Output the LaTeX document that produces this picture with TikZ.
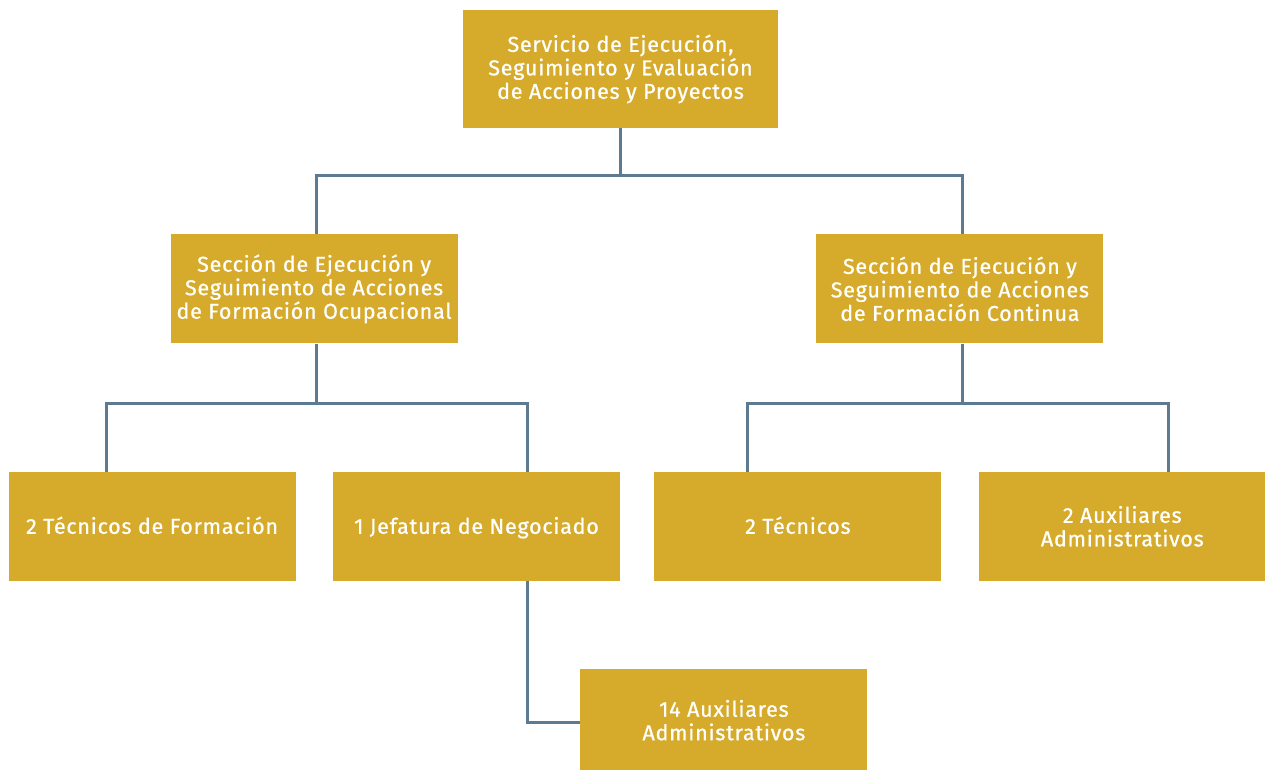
\documentclass[tikz,border=0pt]{standalone}
\usepackage{fontspec}
\setmainfont[LetterSpace=3.5, FakeBold=0.8]{Fira Sans}
\usetikzlibrary{positioning}
\definecolor{unitgold}{HTML}{D6AA2A}
\definecolor{linkslate}{HTML}{5E7A90}
\tikzstyle{unit}=[
	rectangle,
	fill=unitgold,
	text=white,
	align=center,
	inner sep=0pt,
	minimum width=287pt,
	minimum height=109pt,
	font=\fontsize{21.5}{23.5}\selectfont
]
\tikzstyle{oneline}=[
	text height=15pt,
	text depth=0pt
]
\tikzstyle{link}=[
	draw=linkslate,
	line width=3pt
]

\begin{document}
\begin{tikzpicture}[x=1pt,y=1pt]
\useasboundingbox (0,0) rectangle (1265,-770);
\node [unit, minimum width=315pt, minimum height=118pt] (Servicio) at (620.5,-69) {Servicio de Ejecución,\\Seguimiento y Evaluación\\de Acciones y Proyectos};
\node [unit] (SeccionOcupacional)[below left=106pt and 5pt of Servicio] {Sección de Ejecución y\\Seguimiento de Acciones\\de Formación Ocupacional};
\node [unit] (SeccionContinua)[below right=106pt and 38pt of Servicio] {Sección de Ejecución y\\Seguimiento de Acciones\\de Formación Continua};
\node [unit, oneline] (TecnicosFormacion)[below=128pt of SeccionOcupacional, xshift=-162pt] {2 Técnicos de Formación};
\node [unit, oneline] (Jefatura)[right=37pt of TecnicosFormacion] {1 Jefatura de Negociado};
\node [unit, oneline] (Tecnicos)[right=34pt of Jefatura] {2 Técnicos};
\node [unit] (Auxiliares)[right=37pt of Tecnicos] {2 Auxiliares\\Administrativos};
\node [unit, minimum height=102pt] (AuxiliaresJefatura)[below right=88pt and -40pt of Jefatura] {14 Auxiliares\\Administrativos};
% lineas de dependencia
\draw [link] ([xshift=-0.5pt]Servicio.south) -- ++(0,-47) -| ([xshift=2.5pt]SeccionOcupacional.north);
\draw [link] ([xshift=-0.5pt]Servicio.south) -- ++(0,-47) -| ([xshift=2.5pt]SeccionContinua.north);
\draw [link] ([xshift=2.5pt]SeccionOcupacional.south) -- ++(0,-60) -| ([xshift=-45.5pt]TecnicosFormacion.north);
\draw [link] ([xshift=2.5pt]SeccionOcupacional.south) -- ++(0,-60) -| ([xshift=50.5pt]Jefatura.north);
\draw [link] ([xshift=2.5pt]SeccionContinua.south) -- ++(0,-60) -| ([xshift=-50.5pt]Tecnicos.north);
\draw [link] ([xshift=2.5pt]SeccionContinua.south) -- ++(0,-60) -| ([xshift=46.5pt]Auxiliares.north);
\draw [link] ([xshift=50.5pt]Jefatura.south) |- ([yshift=-2.5pt]AuxiliaresJefatura.west);
\end{tikzpicture}
\end{document}
